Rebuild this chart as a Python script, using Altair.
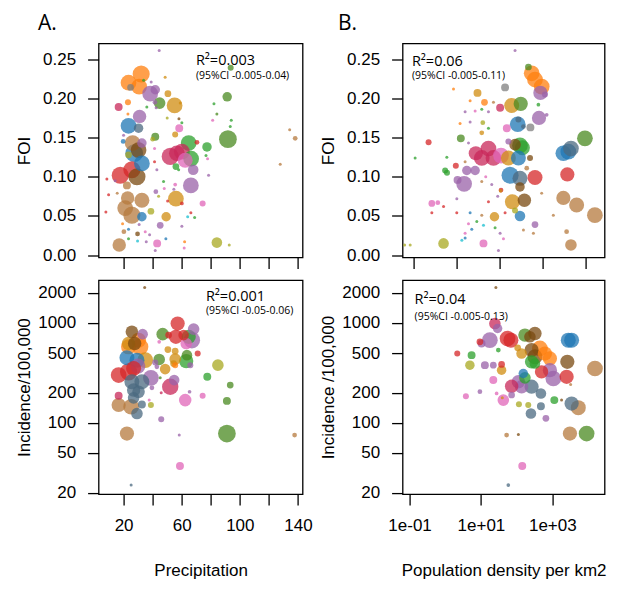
import altair as alt
import pandas as pd

# ---------------- data ----------------
# colour groups (regions) and their palette
GROUPS = ["or", "pu", "bl", "re", "gr", "ta", "go", "br", "sl", "og", "oy", "pk", "cr", "te", "gy"]
COLORS = ["#ff7f0e", "#9a62a8", "#1f77b4", "#d62728", "#2ca02c", "#b57a3e", "#d08c10", "#7a4a10",
          "#4b6a80", "#4a8a20", "#a8a820", "#e066b8", "#c8285a", "#17becf", "#7f7f7f"]

# Panel A top: precipitation vs FOI  (x, FOI, group, population weight)
tl_x = [44.5, 32.1, 23.4, 30.7, 24.8, 33.8, 48.6, 39.0, 38.3, 41.8, 50.5, 44.8, 55.1, 59.0, 23.0, 16.6, 36.0, 41.6, 42.4, 31.0,
        23.4, 30.3, 23.0, 50.0, 58.1, 60.1, 58.3, 55.5, 41.8, 40.0, 19.7, 26.2, 32.6, 30.3, 27.3, 32.6, 23.4, 17.7, 25.7, 29.2,
        22.3, 64.8, 52.1, 56.7, 60.1, 62.4, 66.5, 70.5, 77.4, 76.7, 77.8, 67.9, 56.0, 57.9, 66.3, 55.5, 54.6, 56.0, 60.1, 74.4,
        78.5, 91.3, 82.2, 84.2, 94.1, 93.4, 81.3, 91.8, 93.7, 134.3, 138.1, 127.8, 84.2, 92.7, 17.0, 21.1, 32.6, 25.7, 32.6, 22.8,
        15.6, 9.7, 7.8, 38.8, 49.3, 45.2, 43.1, 41.8, 29.6, 23.4, 20.2, 23.4, 19.3, 30.7, 29.6, 34.9, 37.9, 50.3, 48.0, 42.2,
        44.1, 42.9, 47.5, 41.3, 41.3, 62.0, 61.7, 66.3, 68.9, 64.1, 60.1, 49.1, 35.6, 14.2, 8.5, 20.0]
tl_y = [0.261, 0.231, 0.220, 0.215, 0.214, 0.223, 0.227, 0.221, 0.206, 0.211, 0.206, 0.194, 0.191, 0.194, 0.195, 0.189, 0.189, 0.195, 0.188, 0.177,
        0.165, 0.162, 0.180, 0.175, 0.174, 0.169, 0.162, 0.154, 0.151, 0.148, 0.145, 0.143, 0.143, 0.134, 0.130, 0.117, 0.128, 0.102, 0.109, 0.100,
        0.089, 0.143, 0.126, 0.130, 0.132, 0.121, 0.123, 0.144, 0.138, 0.127, 0.123, 0.109, 0.113, 0.109, 0.089, 0.090, 0.084, 0.072, 0.066, 0.066,
        0.102, 0.202, 0.193, 0.180, 0.172, 0.164, 0.172, 0.148, 0.239, 0.160, 0.149, 0.116, 0.016, 0.013, 0.013, 0.060, 0.070, 0.051, 0.049, 0.073,
        0.079, 0.077, 0.055, 0.056, 0.049, 0.038, 0.015, 0.006, 0.018, 0.021, 0.030, 0.033, 0.040, 0.039, 0.027, 0.030, 0.026, 0.069, 0.085, 0.081,
        0.075, 0.109, 0.094, 0.119, 0.136, 0.017, 0.009, 0.054, 0.048, 0.049, 0.037, 0.021, 0.017, 0.095, 0.097, 0.153]
tl_g = ["pu", "or", "or", "or", "gy", "gr", "go", "pu", "pu", "pu", "go", "og", "go", "go", "or", "cr", "gr", "pu", "pu", "pu",
        "bl", "sl", "or", "oy", "br", "gr", "pk", "go", "og", "oy", "bl", "ta", "pu", "br", "bl", "bl", "oy", "re", "re", "br",
        "ta", "gr", "cr", "cr", "cr", "pk", "gr", "re", "gr", "gr", "pk", "pu", "gr", "gr", "pu", "pk", "pu", "go", "re", "pk",
        "pu", "og", "gr", "og", "gr", "gr", "pk", "og", "og", "ta", "ta", "ta", "oy", "oy", "ta", "ta", "ta", "ta", "bl", "ta",
        "ta", "re", "re", "oy", "go", "pu", "pk", "pu", "te", "gr", "ta", "bl", "or", "pu", "br", "pk", "pu", "re", "pk", "pu",
        "oy", "pu", "gr", "re", "pk", "or", "pk", "re", "gr", "te", "pu", "bl", "pu", "pu", "re", "pu"]
tl_p = [2, 65, 55, 55, 10, 2, 2, 2, 55, 20, 10, 30, 55, 2, 8, 14, 2, 5, 2, 40,
        55, 20, 2, 2, 2, 2, 14, 8, 14, 5, 5, 55, 20, 55, 70, 55, 10, 65, 65, 65,
        14, 55, 65, 55, 55, 50, 55, 5, 20, 2, 2, 25, 10, 2, 55, 3, 2, 55, 3, 8,
        2, 20, 2, 2, 2, 2, 2, 70, 8, 2, 5, 2, 25, 2, 40, 55, 50, 65, 20, 40,
        2, 2, 2, 10, 20, 10, 14, 2, 2, 2, 5, 2, 2, 2, 5, 2, 2, 2, 2, 5,
        2, 2, 2, 2, 2, 2, 2, 2, 2, 2, 2, 2, 2, 2, 2, 2]

# Panel B top: population density vs FOI
tr_x = [22.7, 46.5, 55.5, 66.2, 94.8, 88.5, 113, 13.3, 0.837, 3.03, 4.41, 7.13, 2.04, 19.0, 30.8, 10.2, 3.81, 2.67, 5.46, 1.56,
        82.0, 26.2, 51.8, 35.6, 14.6, 4.03, 2.04, 1.19, 5.46, 3.81, 1.24, 1.87, 0.220, 0.107, 0.585, 0.535, 0.59, 0.948, 1.56, 1.71,
        2.67, 2.77, 5.46, 7.13, 3.81, 10.7, 15.9, 29.6, 33.7, 22.7, 27.2, 50.7, 15.9, 17.4, 29.6, 66.2, 42.5, 1.48, 1.04, 3.81,
        6.52, 4.72, 10.7, 10.5, 29.6, 19.7, 37.5, 94.8, 22.7, 29.6, 7.53, 0.262, 0.361, 0.491, 0.262, 0.998, 2.04, 3.81, 13.3, 1.87,
        2.92, 4.18, 7.78, 2.23, 1.56, 10.2, 12.2, 9.33, 4.18, 1.31, 1.56, 0.491, 0.0608, 0.082, 35.6, 66.2, 60.8, 303, 396, 455,
        964, 375, 303, 618, 1644, 177, 361, 455, 79.4, 124, 1.0, 5.46, 8.98, 27.2]
tr_y = [0.261, 0.240, 0.232, 0.224, 0.215, 0.207, 0.205, 0.214, 0.212, 0.207, 0.195, 0.195, 0.197, 0.191, 0.193, 0.188, 0.186, 0.184, 0.183, 0.183,
        0.175, 0.167, 0.163, 0.164, 0.162, 0.169, 0.170, 0.168, 0.162, 0.156, 0.149, 0.143, 0.144, 0.124, 0.125, 0.108, 0.105, 0.114, 0.119, 0.108,
        0.108, 0.130, 0.136, 0.124, 0.124, 0.127, 0.124, 0.140, 0.137, 0.141, 0.124, 0.124, 0.145, 0.102, 0.098, 0.099, 0.111, 0.091, 0.096, 0.094,
        0.090, 0.100, 0.083, 0.082, 0.087, 0.068, 0.070, 0.079, 0.057, 0.050, 0.049, 0.066, 0.067, 0.062, 0.054, 0.054, 0.054, 0.051, 0.054, 0.040,
        0.043, 0.038, 0.035, 0.033, 0.028, 0.028, 0.021, 0.006, 0.015, 0.019, 0.022, 0.015, 0.013, 0.013, 0.032, 0.039, 0.028, 0.130, 0.132, 0.136,
        0.149, 0.103, 0.073, 0.064, 0.051, 0.051, 0.030, 0.013, 0.192, 0.179, 0.072, 0.068, 0.075, 0.173]
tr_g = ["pu", "og", "or", "or", "or", "pu", "pu", "gy", "or", "go", "or", "ta", "or", "go", "og", "cr", "gr", "pk", "pu", "pu",
        "pu", "bl", "gy", "sl", "pk", "oy", "pu", "or", "gr", "go", "og", "pu", "re", "gr", "gr", "gr", "gr", "re", "ta", "pu",
        "pu", "cr", "cr", "cr", "cr", "pk", "go", "gr", "gr", "br", "bl", "br", "pu", "bl", "sl", "re", "ta", "pu", "pu", "ta",
        "pu", "pk", "re", "go", "br", "go", "br", "ta", "oy", "bl", "go", "pk", "pk", "re", "re", "re", "bl", "ta", "re", "pk",
        "gr", "te", "gr", "bl", "pk", "pu", "pk", "pu", "pk", "te", "bl", "oy", "oy", "oy", "ta", "pu", "ta", "bl", "bl", "sl",
        "og", "re", "ta", "ta", "ta", "ta", "ta", "ta", "gr", "pu", "pu", "re", "pu", "sl"]
tr_p = [2, 10, 55, 55, 55, 45, 8, 14, 2, 14, 10, 2, 2, 50, 45, 14, 2, 2, 2, 2,
        45, 55, 14, 5, 14, 5, 2, 2, 2, 5, 14, 2, 8, 2, 2, 8, 8, 8, 2, 20,
        20, 45, 55, 55, 55, 55, 50, 55, 50, 30, 50, 8, 8, 65, 50, 50, 5, 55, 14, 2,
        2, 2, 5, 3, 20, 50, 40, 2, 8, 25, 20, 10, 5, 2, 2, 2, 2, 2, 2, 2,
        2, 2, 2, 2, 2, 2, 2, 2, 14, 2, 2, 25, 2, 2, 2, 10, 2, 55, 55, 55,
        55, 45, 45, 50, 55, 2, 5, 30, 3, 3, 2, 2, 2, 8]

# Panel A bottom: precipitation vs incidence per 100,000
bl_x = [34.5, 57.2, 68.2, 25.7, 33.1, 46.9, 51.0, 56.0, 61.3, 64.8, 67.0, 63.1, 23.4, 30.3, 31.4, 23.4, 27.6, 44.5, 50.5, 55.5,
        71.0, 63.6, 22.3, 29.2, 34.9, 44.5, 55.5, 63.1, 54.4, 65.9, 84.9, 41.8, 42.9, 48.6, 55.5, 29.8, 16.6, 23.4, 26.9, 38.8,
        25.7, 32.6, 52.1, 54.8, 77.6, 93.4, 39.5, 26.9, 30.3, 65.4, 45.9, 16.6, 74.4, 26.9, 62.4, 91.1, 37.6, 16.6, 25.2, 32.6,
        38.8, 29.2, 45.9, 22.3, 58.3, 91.1, 137.7, 58.8, 25.2, 45.2]
bl_y = [2260, 986, 867, 815, 772, 772, 755, 726, 755, 726, 672, 622, 622, 672, 576, 576, 622, 647, 541, 522,
        494, 476, 448, 424, 424, 431, 434, 415, 392, 378, 378, 402, 364, 345, 378, 370, 301, 324, 350, 282,
        258, 258, 230, 268, 289, 239, 224, 213, 205, 205, 200, 187, 187, 178, 169, 166, 169, 151, 145, 153,
        151, 124, 109, 78.3, 75.5, 78.3, 75.5, 37.0, 23.9, 282]
bl_g = ["br", "re", "pu", "br", "pu", "og", "re", "re", "re", "gr", "pu", "pk", "go", "or", "or", "or", "br", "pk", "go", "go",
        "re", "og", "bl", "bl", "go", "og", "go", "gr", "go", "pu", "oy", "pu", "pu", "go", "or", "pu", "re", "re", "re", "pu",
        "sl", "sl", "cr", "pu", "gr", "og", "pu", "sl", "sl", "pu", "cr", "cr", "pk", "sl", "pk", "og", "pk", "ta", "ta", "sl",
        "oy", "sl", "pu", "ta", "pu", "og", "ta", "pk", "sl", "og"]
bl_p = [2, 45, 30, 35, 25, 35, 10, 45, 25, 45, 60, 30, 40, 50, 60, 50, 40, 3, 10, 10,
        8, 25, 50, 50, 55, 30, 30, 45, 10, 8, 30, 8, 5, 25, 8, 50, 55, 65, 50, 55,
        50, 50, 60, 25, 14, 10, 5, 40, 35, 3, 2, 14, 8, 30, 35, 14, 2, 45, 55, 14,
        8, 30, 8, 45, 2, 70, 5, 14, 2, 2]

# Panel B bottom: population density vs incidence per 100,000
br_x = [26.2, 24.6, 29.3, 17.8, 10.4, 55.8, 69.2, 171, 326, 236, 138, 263, 450, 621, 326, 263, 326, 857, 2810, 3480,
        2640, 2520, 15700, 857, 1070, 500, 3480, 5360, 9160, 3120, 1140, 1820, 480, 480, 263, 252, 212, 662, 154, 171,
        112, 138, 72.4, 42.4, 72.4, 22.2, 37.9, 37.9, 22.2, 12.9, 5.47, 2.17, 4.90, 9.35, 3.79, 9.35, 27.5, 39.7, 52.4, 112,
        144, 58.5, 116, 30.7, 107, 3270]
br_y = [2260, 986, 879, 672, 622, 698, 672, 755, 783, 726, 494, 535, 555, 494, 458, 408, 393, 441, 672, 672,
        408, 289, 350, 337, 278, 324, 156, 142, 78.3, 78.3, 169, 169, 197, 147, 230, 124, 151, 111, 312, 282,
        258, 230, 233, 169, 190, 268, 337, 384, 378, 378, 476, 494, 378, 647, 185, 205, 197, 178, 75.5, 76.5,
        37, 23.9, 154, 535, 564, 242]
br_g = ["br", "cr", "pu", "pu", "pu", "re", "re", "og", "br", "br", "go", "br", "or", "or", "br", "gr", "gr", "or", "bl", "bl",
        "br", "re", "ta", "pu", "pu", "re", "sl", "ta", "og", "ta", "gr", "br", "sl", "sl", "sl", "sl", "oy", "pu", "bl", "gr",
        "pu", "pu", "cr", "pk", "pu", "pk", "go", "re", "pu", "pu", "gr", "re", "oy", "re", "pk", "pu", "pk", "go", "ta", "br",
        "pk", "sl", "oy", "gr", "go", "ta"]
br_p = [2, 30, 20, 55, 14, 55, 50, 40, 40, 30, 25, 45, 55, 45, 50, 40, 25, 45, 50, 50,
        45, 45, 55, 45, 55, 40, 45, 50, 55, 45, 14, 2, 25, 14, 45, 25, 8, 10, 20, 30,
        40, 40, 40, 30, 10, 14, 20, 10, 10, 14, 14, 8, 20, 10, 8, 5, 3, 2, 5, 2,
        14, 3, 8, 5, 10, 2]

# annotation texts
panel_letters = ["A.", "B."]
r2_texts = ["R\u00b2=0.003", "R\u00b2=0.06", "R\u00b2=0.001", "R\u00b2=0.04"]
ci_texts = ["(95%CI -0.005-0.04)", "(95%CI -0.005-0.11)", "(95%CI -0.05-0.06)", "(95%CI -0.005-0.13)"]

# axis ticks / labels
precip_ticks = [20, 40, 60, 80, 100, 120, 140]
precip_labels = [20, 60, 100, 140]
foi_ticks = [0.00, 0.05, 0.10, 0.15, 0.20, 0.25]
inc_ticks = [20, 50, 100, 200, 500, 1000, 2000]
dens_ticks_top = [0.1, 1, 10, 100, 1000]
dens_ticks_bottom = [0.1, 10, 1000]
dens_labels_bottom = ["1e-01", "1e+01", "1e+03"]

# ---------------- styling ----------------
AXF = "Liberation Sans, Arial, sans-serif"
TXF = "Open Sans"
W_L, W_R, H = 204, 202, 214

def axis(values, labels=True, title_x=None, title_y=None, fmt=None, label_expr=None):
    kw = dict(values=values, domain=False, grid=False, ticks=True, tickColor="black",
              tickWidth=1.3, tickSize=11, labels=labels, labelFont=AXF, labelFontSize=17,
              labelColor="black", labelPadding=12, labelOverlap=False, labelFlush=False,
              titleFont=AXF, titleFontSize=17, titleFontWeight="normal", titleColor="black",
              titleBaseline="alphabetic")
    if title_x is not None:
        kw["titleX"] = title_x
    if title_y is not None:
        kw["titleY"] = title_y
    if fmt is not None:
        kw["format"] = fmt
    if label_expr is not None:
        kw["labelExpr"] = label_expr
    return alt.Axis(**kw)


def points(xs, ys, gs, ps, xscale, yscale, xaxis, yaxis, xtitle, ytitle):
    df = pd.DataFrame({"x": xs, "y": ys, "g": gs, "pop": ps})
    return alt.Chart(df).mark_circle(opacity=0.75, clip=True).encode(
        x=alt.X("x:Q", scale=xscale, axis=xaxis, title=xtitle),
        y=alt.Y("y:Q", scale=yscale, axis=yaxis, title=ytitle),
        color=alt.Color("g:N", scale=alt.Scale(domain=GROUPS, range=COLORS), legend=None),
        size=alt.Size("pop:Q", scale=alt.Scale(domain=[0, 100], range=[0, 450]), legend=None),
        order=alt.Order("pop:Q", sort="descending"),
    )


def txt(text, x, y, size, font=TXF):
    return alt.Chart(pd.DataFrame({"t": [text]})).mark_text(
        align="left", baseline="alphabetic", fontSize=size, font=font, color="black"
    ).encode(x=alt.value(x), y=alt.value(y), text="t:N")


def r2(rx, ry, value, ci, cy):
    return [txt(value, rx, ry, 14.5), txt(ci, rx, cy, 10.5)]


foi_scale = alt.Scale(domain=[-0.003, 0.270], nice=False, zero=False)
inc_scale = alt.Scale(type="log", domain=[19.4, 2680], nice=False)
precip_scale = alt.Scale(domain=[2.8, 143.2], nice=False, zero=False)
dens_scale_top = alt.Scale(type="log", domain=[0.0546, 2767], nice=False)
dens_scale_bot = alt.Scale(type="log", domain=[0.0637, 29240], nice=False)

TX = -69.5
precip_expr = "indexof(" + str(precip_labels) + ", datum.value) >= 0 ? datum.label : ''"
dens_expr = "".join(
    f"abs(datum.value - {v}) < {v * 0.01} ? '{lab}' : " for v, lab in zip(dens_ticks_bottom, dens_labels_bottom)
) + "''"

tl = alt.layer(
    points(tl_x, tl_y, tl_g, tl_p, precip_scale, foi_scale,
           axis(precip_ticks, labels=False), axis(foi_ticks, title_x=TX, fmt=".2f"), None, "FOI"),
    txt(panel_letters[0], -60.7, -13.4, 21),
    *r2(97.3, 21.5, r2_texts[0], ci_texts[0], 35.2),
).properties(width=W_L, height=H)

tr = alt.layer(
    points(tr_x, tr_y, tr_g, tr_p, dens_scale_top, foi_scale,
           axis(dens_ticks_top, labels=False), axis(foi_ticks, title_x=TX, fmt=".2f"), None, "FOI"),
    txt(panel_letters[1], -64.7, -13.4, 21),
    *r2(9.3, 22.2, r2_texts[1], ci_texts[1], 35.8),
).properties(width=W_R, height=H)

bl = alt.layer(
    points(bl_x, bl_y, bl_g, bl_p, precip_scale, inc_scale,
           axis(precip_ticks, title_y=81, label_expr=precip_expr),
           axis(inc_ticks, title_x=TX, fmt="d"), "Precipitation", "Incidence/100,000"),
    *r2(107.3, 20.5, r2_texts[2], ci_texts[2], 34.2),
).properties(width=W_L, height=H)

br = alt.layer(
    points(br_x, br_y, br_g, br_p, dens_scale_bot, inc_scale,
           axis(dens_ticks_bottom, title_y=81, label_expr=dens_expr),
           axis(inc_ticks, title_x=TX, fmt="d"), "Population density per km2", "Incidence /100,000"),
    *r2(12, 24.2, r2_texts[3], ci_texts[3], 40.0),
).properties(width=W_R, height=H)

chart = alt.concat(
    tl, tr, bl, br, columns=2, spacing={"row": 22.6, "column": 100}, bounds="flush"
).configure_view(
    stroke="black", strokeWidth=1.3
).properties(
    padding={"left": 5.6, "top": 3.5, "right": 0, "bottom": 0}, background="white"
)

chart.save("out.html", embed_options={"renderer": "svg", "actions": False})
